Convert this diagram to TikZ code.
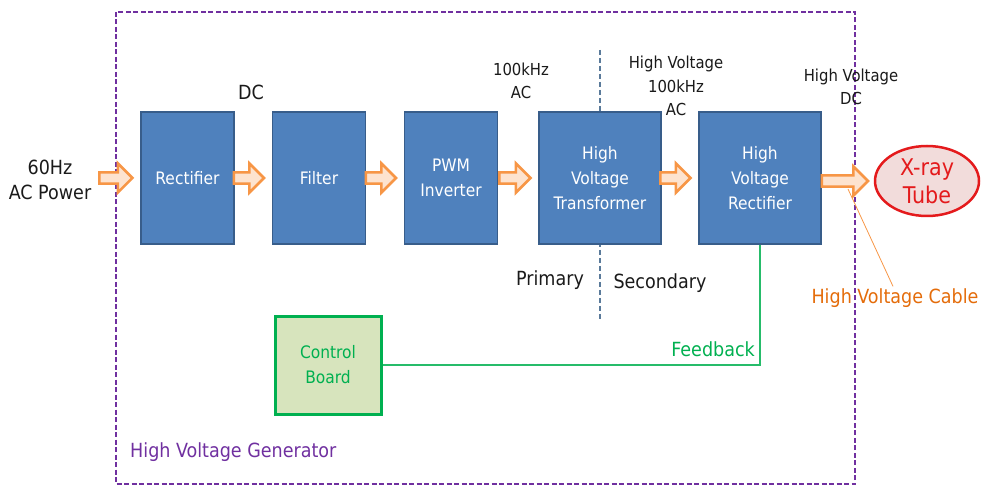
\documentclass[tikz,border=0pt]{standalone}
\usepackage{fontspec}
\setmainfont{DejaVu Sans Condensed}
\usetikzlibrary{shapes.arrows,shapes.geometric,calc}

\definecolor{boxblue}{HTML}{4F81BD}
\definecolor{boxedge}{HTML}{385D8A}
\definecolor{arrowedge}{HTML}{F79646}
\definecolor{arrowfill}{HTML}{FDE3CF}
\definecolor{genpurple}{HTML}{7030A0}
\definecolor{ctrlgreen}{HTML}{00B050}
\definecolor{ctrlfill}{HTML}{D7E4BD}
\definecolor{tubered}{HTML}{E41A1C}
\definecolor{tubefill}{HTML}{F2DCDB}
\definecolor{cableorange}{HTML}{E46C0A}
\definecolor{splitline}{HTML}{5A7A9A}
\definecolor{labelink}{HTML}{1A1A1A}

\tikzset{
  stage/.style={draw=boxedge, line width=1.5pt, fill=boxblue, text=white,
    minimum width=93pt, minimum height=132pt, inner sep=0pt, align=center,
    font=\fontsize{17.2}{25}\selectfont},
  widestage/.style={stage, minimum width=122pt},
  flowarrow/.style={single arrow, draw=arrowedge, fill=arrowfill, line width=2.5pt,
    inner sep=4.3pt, single arrow head extend=9pt, anchor=tip},
  lbl/.style={text=labelink, align=center, inner sep=0pt},
  bigfont/.style={font=\fontsize{19.5}{25}\selectfont},
  smallfont/.style={font=\fontsize{16.5}{23.5}\selectfont}
}

\begin{document}
\begin{tikzpicture}[x=1pt, y=-1pt]
\useasboundingbox (0,0) rectangle (985,486);

% generator enclosure
\draw[genpurple, line width=2.4pt, dash pattern=on 5pt off 2.5pt]
  (116,12) rectangle (855,484);
\node[anchor=west, text=genpurple, inner sep=0pt, bigfont] (gen) at (130,452) {High Voltage Generator};

% primary / secondary split
\coordinate (splittop) at (600,50);
\coordinate (splitbot) at (600,320);
\draw[splitline, line width=1.1pt, dash pattern=on 5pt off 3pt] (splittop) -- (splitbot);

% power chain
\node[lbl, bigfont] (src) at (50,180) {60Hz\\AC Power};
\node[stage] (rect) at (187.5,178) {Rectifier};
\node[stage] (filt) at (319,178) {Filter};
\node[stage] (pwm) at (451,178) {PWM\\Inverter};
\node[widestage] (xfmr) at (600,178) {High\\Voltage\\Transformer};
\node[widestage] (hvr) at (760,178) {High\\Voltage\\Rectifier};
\node[ellipse, draw=tubered, line width=2.5pt, fill=tubefill, text=tubered,
      minimum width=104pt, minimum height=70pt, inner sep=0pt, align=center,
      font=\fontsize{23}{28}\selectfont] (tube) at (927,181) {X-ray\\Tube};

% block arrows between the stages
\node[flowarrow, minimum height=33pt] (a0) at ($(rect.west)+(-6,0)$) {};
\node[flowarrow, minimum height=30pt] (a1) at ($(filt.west)+(-6,0)$) {};
\node[flowarrow, minimum height=30pt] (a2) at ($(pwm.west)+(-6,0)$) {};
\node[flowarrow, minimum height=31pt] (a3) at ($(xfmr.west)+(-6,0)$) {};
\node[flowarrow, minimum height=30pt] (a4) at ($(hvr.west)+(-6,0)$) {};
\node[flowarrow, minimum height=46pt] (a5) at ($(tube.west)+(-4,0)$) {};

% signal labels
\node[lbl, bigfont] (dc) at (251,92) {DC};
\node[lbl, smallfont] (acl) at (521,81) {100kHz\\AC};
\node[lbl, smallfont] (hvac) at (676,86) {High Voltage\\100kHz\\AC};
\node[lbl, smallfont] (hvdc) at (851,87) {High Voltage\\DC};
\node[lbl, bigfont] (prim) at (550,280) {Primary};
\node[lbl, bigfont] (sec) at (660,283) {Secondary};

% cable callout
\node[text=cableorange, inner sep=0pt, bigfont] (cable) at (895,298) {High Voltage Cable};
\coordinate (cabletap) at (848,189);
\draw[arrowedge, line width=0.8pt] (cabletap) -- ($(cable.north)+(-2,-2)$);

% control loop
\node[draw=ctrlgreen, line width=3pt, fill=ctrlfill, text=ctrlgreen,
      minimum width=106pt, minimum height=98pt, inner sep=0pt, align=center,
      font=\fontsize{17.2}{25}\selectfont] (ctrl) at (328,365) {Control\\Board};
\draw[ctrlgreen!85!white, line width=1.2pt] (ctrl.east) -| (hvr.south);
\node[anchor=east, text=ctrlgreen, inner sep=0pt, bigfont] (fb) at (755,349) {Feedback};

\end{tikzpicture}
\end{document}
